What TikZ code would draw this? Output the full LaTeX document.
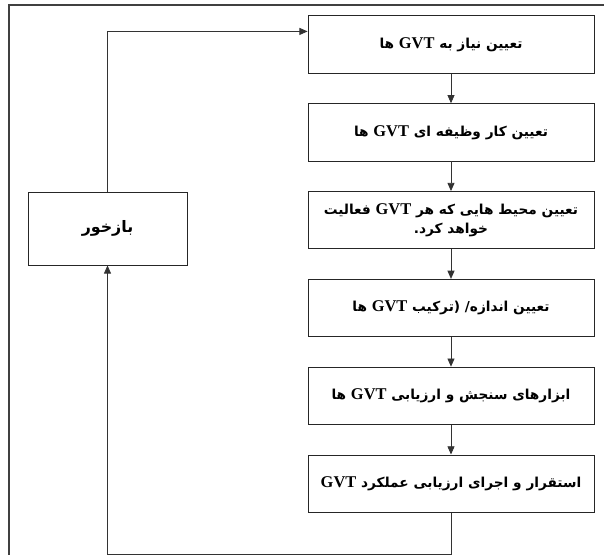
\documentclass[tikz,border=0pt]{standalone}
\usepackage{fontspec}
\usetikzlibrary{arrows.meta,positioning}
\newfontfamily\fafont[Script=Arabic]{DejaVu Sans}
\newfontfamily\enfont{Liberation Serif}
\TeXXeTstate=1
\newcommand\gvt{\beginL{\enfont\bfseries\fontsize{14}{15}\selectfont GVT}\endL}

\begin{document}
\begin{tikzpicture}[
  node distance=0.89cm,
  stage/.style={draw=black!85, line width=0.7pt, minimum width=8.58cm,
    minimum height=1.72cm, align=center, inner sep=2pt,
    font=\fafont\bfseries\fontsize{11.7}{16}\selectfont},
  loop/.style={draw=black!80, line width=0.7pt},
  >={Triangle[length=7pt,width=6pt]}
]
\useasboundingbox (0,0) rectangle (18.12,-16.65);

% outer frame (only top and left edges show)
\draw[black!75, line width=1pt] (0.27,-16.9) |- (18.4,-0.15);

\node[stage] (need) at (13.53,-1.335)
  {\beginR تعیین نیاز به \gvt{} ها\endR};
\node[stage, below=of need] (task)
  {\beginR تعیین کار وظیفه ای \gvt{} ها\endR};
\node[stage, below=of task] (env)
  {\beginR تعیین محیط هایی که هر \gvt{} فعالیت\endR\\
   \beginR خواهد کرد.\endR};
\node[stage, below=of env] (size)
  {\beginR تعیین اندازه/ (ترکیب \gvt{} ها\endR};
\node[stage, below=of size] (tools)
  {\beginR ابزارهای سنجش و ارزیابی \gvt{} ها\endR};
\node[stage, below=of tools] (run)
  {\beginR استقرار و اجرای ارزیابی عملکرد \gvt\endR};

% feedback box on the left
\node[stage, minimum width=4.77cm, minimum height=2.19cm,
      font=\fafont\bfseries\fontsize{13.5}{16}\selectfont] (fb)
  at (3.225,-6.855) {\beginR بازخور\endR};

\draw[->, loop] (need) -- (task);
\draw[->, loop] (task) -- (env);
\draw[->, loop] (env) -- (size);
\draw[->, loop] (size) -- (tools);
\draw[->, loop] (tools) -- (run);

% return path through the feedback box
\coordinate (low) at ([yshift=-1.26cm]run.south);
\draw[->, loop] (run.south) -- (low) -| (fb.south);
\draw[->, loop] (fb.north) |- ([yshift=-0.48cm]need.north west);
\end{tikzpicture}
\end{document}
